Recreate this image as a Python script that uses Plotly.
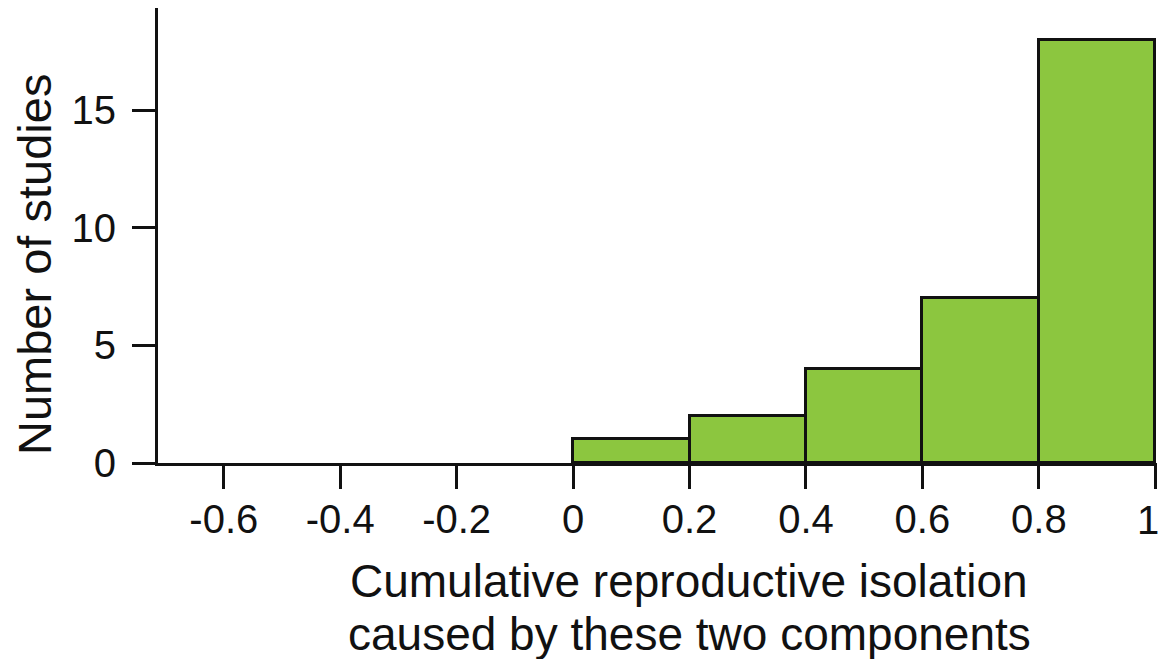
import plotly.graph_objects as go

bin_left = [0.0, 0.2, 0.4, 0.6, 0.8]
bin_width = 0.2
counts = [1, 2, 4, 7, 18]
x_tickvals = [-0.6, -0.4, -0.2, 0, 0.2, 0.4, 0.6, 0.8, 1.0]
x_ticktext = ["-0.6", "-0.4", "-0.2", "0", "0.2", "0.4", "0.6", "0.8", "1"]
y_tickvals = [0, 5, 10, 15]
x_title_lines = ["Cumulative reproductive isolation", "caused by these two components"]
y_title = "Number of studies"

FONT = "Liberation Sans, Arial, Helvetica, sans-serif"
INK = "#111111"

fig = go.Figure()
fig.add_trace(go.Bar(
    x=[b + bin_width / 2 for b in bin_left],
    y=counts,
    width=[bin_width] * len(counts),
    marker=dict(color="#8CC63F", line=dict(color=INK, width=3)),
    showlegend=False,
))

PW = 1161 - 158 - 4
PH = 463 - 8

# the last tick label sits at the page edge; draw it as an annotation nudged inside
axis_ticktext = x_ticktext[:-1] + [""]

fig.update_layout(
    width=1161, height=659,
    margin=dict(l=158, r=4, t=8, b=196, autoexpand=False),
    paper_bgcolor="white", plot_bgcolor="white",
    font=dict(family=FONT, color=INK),
    bargap=0,
    xaxis=dict(
        range=[-0.713, 1.003], showgrid=False, zeroline=False, automargin=False,
        showline=True, linecolor=INK, linewidth=3,
        ticks="outside", ticklen=23, tickwidth=3, tickcolor=INK,
        tickvals=x_tickvals, ticktext=axis_ticktext,
        tickfont=dict(size=40, family=FONT, color=INK),
        ticklabelstandoff=-4, ticklabeloverflow="allow",
    ),
    yaxis=dict(
        range=[0, 19.35], showgrid=False, zeroline=False, automargin=False,
        showline=True, linecolor=INK, linewidth=3,
        ticks="outside", ticklen=23, tickwidth=3, tickcolor=INK,
        tickvals=y_tickvals,
        tickfont=dict(size=40, family=FONT, color=INK),
        ticklabelstandoff=8,
    ),
    annotations=[
        dict(text=x_ticktext[-1], xref="x", yref="paper", x=x_tickvals[-1], y=-(520 - 463) / PH,
             xshift=-7, showarrow=False, xanchor="center", yanchor="middle",
             font=dict(size=40, family=FONT, color=INK)),
        dict(text=x_title_lines[0], xref="paper", yref="paper", x=(689 - 158) / PW, y=-(581 - 463) / PH,
             showarrow=False, xanchor="center", yanchor="middle", font=dict(size=46, family=FONT, color=INK)),
        dict(text=x_title_lines[1], xref="paper", yref="paper", x=(689 - 158) / PW, y=-(634 - 463) / PH,
             showarrow=False, xanchor="center", yanchor="middle", font=dict(size=46, family=FONT, color=INK)),
        dict(text=y_title, xref="paper", yref="paper", x=-(158 - 34) / PW, y=(463 - 265) / PH,
             showarrow=False, xanchor="center", yanchor="middle", textangle=-90,
             font=dict(size=47, family=FONT, color=INK)),
    ],
)

fig.write_html("out.html")
